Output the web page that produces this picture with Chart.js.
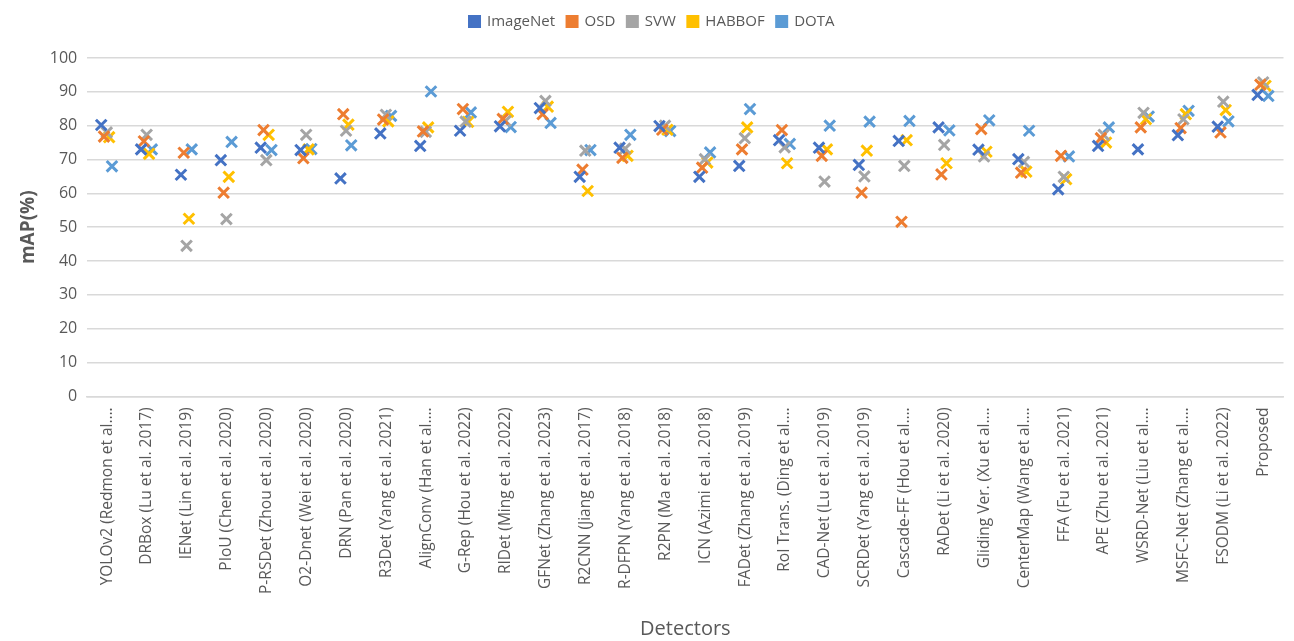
<!DOCTYPE html>
<html>
<head>
<meta charset="utf-8">
<title>mAP per detector</title>
<script src="https://cdn.jsdelivr.net/npm/chart.js@4.4.1/dist/chart.umd.min.js"></script>
<style>
  html, body { margin: 0; padding: 0; background: #ffffff; }
  #wrap { width: 1294px; height: 641px; }
</style>
</head>
<body>
<div id="wrap"><canvas id="map-chart" width="1294" height="641"></canvas></div>
<script>
// === Data ===

const detectors = [
  'YOLOv2 (Redmon et al.…', 'DRBox (Lu et al. 2017)', 'IENet (Lin et al. 2019)',
  'PIoU (Chen et al. 2020)', 'P-RSDet (Zhou et al. 2020)', 'O2-Dnet (Wei et al. 2020)',
  'DRN (Pan et al. 2020)', 'R3Det (Yang et al. 2021)', 'AlignConv (Han et al.…',
  'G-Rep (Hou et al. 2022)', 'RIDet (Ming et al. 2022)', 'GFNet (Zhang et al. 2023)',
  'R2CNN (Jiang et al. 2017)', 'R-DFPN (Yang et al. 2018)', 'R2PN (Ma et al. 2018)',
  'ICN (Azimi et al. 2018)', 'FADet (Zhang et al. 2019)', 'RoI Trans. (Ding et al.…',
  'CAD-Net (Lu et al. 2019)', 'SCRDet (Yang et al. 2019)', 'Cascade-FF (Hou et al.…',
  'RADet (Li et al. 2020)', 'Gliding Ver. (Xu et al.…', 'CenterMap (Wang et al.…',
  'FFA (Fu et al. 2021)', 'APE (Zhu et al. 2021)', 'WSRD-Net (Liu et al.…',
  'MSFC-Net (Zhang et al.…', 'FSODM (Li et al. 2022)', 'Proposed'
];

const imagenet = [80.2, 73.0, 65.5, 69.8, 73.5, 72.8, 64.4, 77.7, 74.0, 78.5,
                  79.8, 85.2, 64.9, 73.5, 79.9, 64.9, 68.1, 75.7, 73.5, 68.4,
                  75.5, 79.5, 72.9, 70.1, 61.2, 74.0, 73.0, 77.2, 79.7, 89.1];
const osd      = [76.8, 75.4, 72.0, 60.2, 78.7, 70.4, 83.4, 81.8, 78.3, 84.9,
                  82.0, 83.4, 67.0, 70.5, 78.8, 67.6, 73.0, 78.7, 71.1, 60.2,
                  51.6, 65.6, 79.0, 66.1, 71.1, 76.3, 79.5, 79.3, 78.0, 92.1];
const svw      = [78.0, 77.3, 44.5, 52.4, 69.8, 77.3, 78.5, 83.2, 78.2, 81.2,
                  81.4, 87.3, 72.6, 73.2, 80.0, 70.1, 76.3, 73.6, 63.5, 65.0,
                  68.1, 74.3, 70.9, 69.3, 64.9, 77.3, 83.8, 81.9, 87.1, 92.8];
const habbof   = [76.6, 71.7, 52.5, 64.9, 77.3, 73.0, 80.3, 81.3, 79.5, 81.1,
                  84.1, 85.6, 60.7, 71.1, 78.8, 69.1, 79.5, 68.9, 73.0, 72.6,
                  75.7, 68.9, 72.3, 66.4, 64.2, 75.0, 81.9, 83.4, 84.6, 91.8];
const dota     = [68.0, 73.0, 73.0, 75.2, 72.8, 73.1, 74.2, 82.9, 90.1, 83.9,
                  79.6, 80.8, 72.8, 77.3, 78.4, 72.1, 84.9, 74.6, 80.0, 81.2,
                  81.4, 78.6, 81.6, 78.5, 70.9, 79.5, 82.7, 84.4, 81.3, 88.8];

const seriesNames = ['ImageNet', 'OSD', 'SVW', 'HABBOF', 'DOTA'];
const seriesValues = [imagenet, osd, svw, habbof, dota];
const yTicks = [0, 10, 20, 30, 40, 50, 60, 70, 80, 90, 100];

// === Styling ===

const seriesColors = ['#4472C4', '#ED7D31', '#A5A5A5', '#FFC000', '#5B9BD5'];
// horizontal nudge of each series inside its category slot
const seriesShift = [-0.15, -0.08, -0.01, 0.05, 0.12];
const textGray = '#595959';
const gridGray = '#d9d9d9';
const fontFace = '"Open Sans", "Liberation Sans", sans-serif';

// extra room under the legend, like the reference
const legendGap = {
  id: 'legendGap',
  beforeInit(chart) {
    const fit = chart.legend.fit;
    chart.legend.fit = function () {
      fit.call(this);
      this.height += 19;
    };
  }
};

// === Chart ===

const ctx = document.getElementById('map-chart').getContext('2d');

const datasets = seriesNames.map((name, s) => ({
  label: name,
  data: seriesValues[s].map((v, i) => ({ x: i + seriesShift[s], y: v })),
  showLine: false,
  pointStyle: 'crossRot',
  pointRadius: 7.5,
  pointHoverRadius: 7.5,
  pointBorderWidth: 3,
  borderColor: seriesColors[s],
  backgroundColor: seriesColors[s]
}));

new Chart(ctx, {
  type: 'scatter',
  data: { datasets },
  plugins: [legendGap],
  options: {
    responsive: false,
    animation: false,
    layout: { padding: { left: 17, right: 7, top: 2, bottom: 0 } },
    plugins: {
      tooltip: { enabled: false },
      legend: {
        position: 'top',
        labels: {
          boxWidth: 10,
          boxHeight: 10,
          padding: 12,
          color: textGray,
          font: { family: fontFace, size: 15 }
        }
      }
    },
    scales: {
      x: {
        type: 'linear',
        min: -0.5,
        max: detectors.length - 0.5,
        afterBuildTicks: scale => {
          scale.ticks = detectors.map((_, i) => ({ value: i }));
        },
        ticks: {
          autoSkip: false,
          minRotation: 90,
          maxRotation: 90,
          padding: 11,
          color: textGray,
          font: { family: fontFace, size: 15.5 },
          callback: value => detectors[value] ?? ''
        },
        grid: { display: false, drawTicks: false },
        border: { display: true, color: gridGray, width: 1.5 },
        title: {
          display: true,
          text: 'Detectors',
          color: textGray,
          padding: { top: 12, bottom: 0 },
          font: { family: fontFace, size: 20 }
        }
      },
      y: {
        min: 0,
        max: 100,
        afterBuildTicks: scale => {
          scale.ticks = yTicks.map(v => ({ value: v }));
        },
        ticks: {
          padding: 10,
          color: textGray,
          font: { family: fontFace, size: 16 }
        },
        grid: { color: gridGray, lineWidth: 1.5, drawTicks: false },
        border: { display: false },
        title: {
          display: true,
          text: 'mAP(%)',
          color: textGray,
          padding: { top: 0, bottom: 0 },
          font: { family: fontFace, size: 19, weight: 'bold' }
        }
      }
    }
  }
});
</script>
</body>
</html>
